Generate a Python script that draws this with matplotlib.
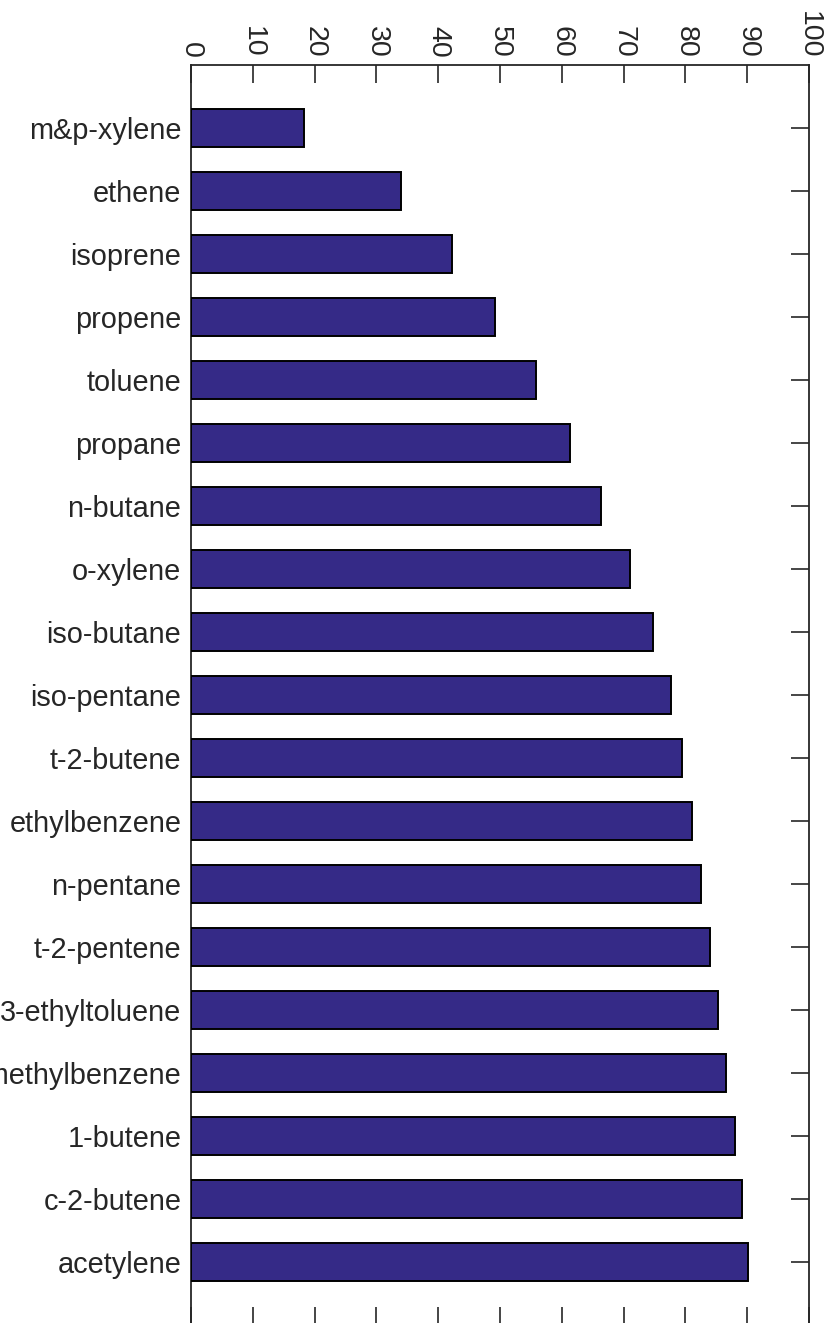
import matplotlib
matplotlib.use("Agg")
import matplotlib.pyplot as plt

compounds = [
    "m&p-xylene", "ethene", "isoprene", "propene", "toluene", "propane",
    "n-butane", "o-xylene", "iso-butane", "iso-pentane", "t-2-butene",
    "ethylbenzene", "n-pentane", "t-2-pentene", "3-ethyltoluene",
    "1,2,4-trimethylbenzene", "1-butene", "c-2-butene", "acetylene",
]
values = [
    18.3, 34.0, 42.3, 49.2, 55.8, 61.3,
    66.3, 71.0, 74.7, 77.6, 79.4,
    81.0, 82.5, 83.9, 85.3,
    86.6, 88.0, 89.1, 90.1,
]
x_ticks = [0, 10, 20, 30, 40, 50, 60, 70, 80, 90, 100]

plt.rcParams["font.family"] = ["Liberation Sans", "DejaVu Sans"]
ink = "#262626"

fig = plt.figure(figsize=(8.28, 13.23), dpi=100)
W, H = 828, 1323
left_px, right_px, top_px, bottom_px = 191, 809, 65, 1325
ax = fig.add_axes([left_px / W, 1 - bottom_px / H,
                   (right_px - left_px) / W, (bottom_px - top_px) / H])

pos = list(range(len(compounds)))
ax.barh(pos, values, height=0.6, color="#352A87", edgecolor="black",
        linewidth=1.4, zorder=3)

ax.set_xlim(0, 100)
ax.set_ylim(len(compounds), -1)
ax.set_xticks(x_ticks)
ax.set_xticklabels([str(t) for t in x_ticks], rotation=-90)
ax.set_yticks(pos)
ax.set_yticklabels(compounds)

ax.tick_params(axis="x", which="both", top=True, bottom=True,
               labeltop=True, labelbottom=False, direction="in",
               length=13, width=1.2, color=ink, labelcolor=ink,
               labelsize=20.5, pad=5)
ax.tick_params(axis="y", which="both", left=False, right=True,
               labelleft=True, labelright=False, direction="in",
               length=13, width=1.2, color=ink, labelcolor=ink,
               labelsize=20.8, pad=7)

for s in ax.spines.values():
    s.set_color(ink)
    s.set_linewidth(1.3)

fig.savefig("out.png", dpi=100)
